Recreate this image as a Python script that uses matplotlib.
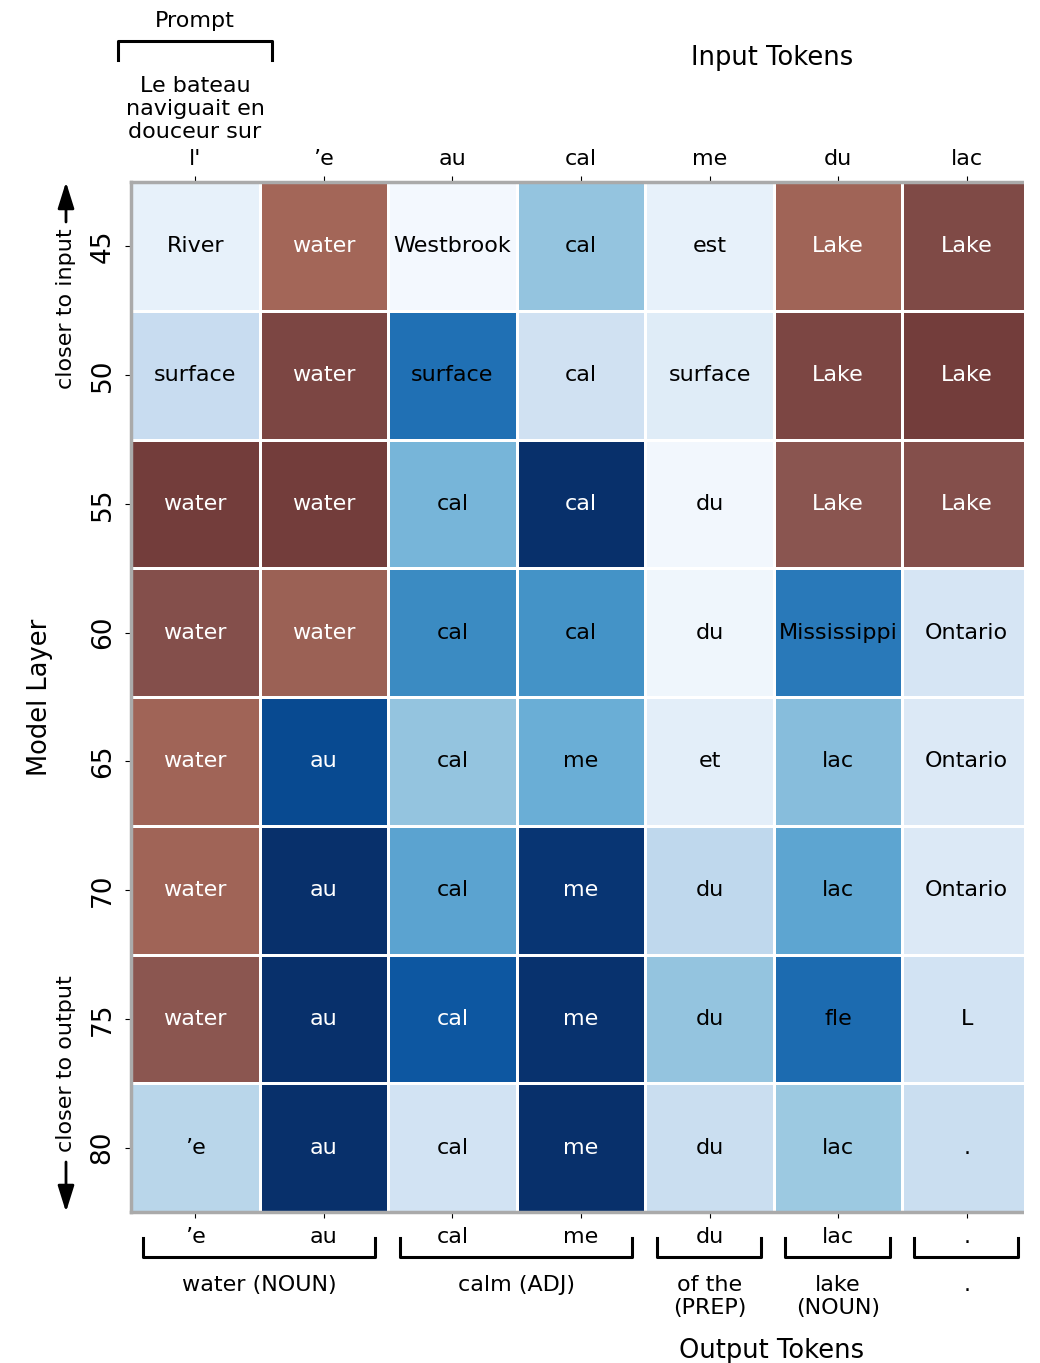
import matplotlib
matplotlib.use("Agg")
import matplotlib.pyplot as plt
import numpy as np
from matplotlib.colors import LinearSegmentedColormap
from matplotlib.lines import Line2D
from matplotlib.patches import Rectangle
from matplotlib.transforms import blended_transform_factory

layers = [45, 50, 55, 60, 65, 70, 75, 80]
input_tokens = ["l'", "\u2019e", "au", "cal", "me", "du", "lac"]
output_tokens = ["\u2019e", "au", "cal", "me", "du", "lac", "."]

words = [
    ["River", "water", "Westbrook", "cal", "est", "Lake", "Lake"],
    ["surface", "water", "surface", "cal", "surface", "Lake", "Lake"],
    ["water", "water", "cal", "cal", "du", "Lake", "Lake"],
    ["water", "water", "cal", "cal", "du", "Mississippi", "Ontario"],
    ["water", "au", "cal", "me", "et", "lac", "Ontario"],
    ["water", "au", "cal", "me", "du", "lac", "Ontario"],
    ["water", "au", "cal", "me", "du", "fle", "L"],
    ["\u2019e", "au", "cal", "me", "du", "lac", "."],
]

# 1 = decoded word is the English meaning (brown), 0 = anything else (blue)
english = [
    [0, 1, 0, 0, 0, 1, 1],
    [0, 1, 0, 0, 0, 1, 1],
    [1, 1, 0, 0, 0, 1, 1],
    [1, 1, 0, 0, 0, 0, 0],
    [1, 0, 0, 0, 0, 0, 0],
    [1, 0, 0, 0, 0, 0, 0],
    [1, 0, 0, 0, 0, 0, 0],
    [0, 0, 0, 0, 0, 0, 0],
]

scores = [
    [0.08, 0.02, 0.02, 0.40, 0.08, 0.08, 0.73],
    [0.24, 0.80, 0.75, 0.20, 0.12, 0.80, 0.97],
    [0.97, 0.97, 0.47, 1.00, 0.03, 0.50, 0.62],
    [0.62, 0.17, 0.65, 0.62, 0.04, 0.72, 0.17],
    [0.08, 0.90, 0.40, 0.50, 0.10, 0.43, 0.14],
    [0.08, 1.00, 0.55, 0.98, 0.27, 0.54, 0.14],
    [0.48, 1.00, 0.85, 0.99, 0.40, 0.77, 0.19],
    [0.29, 1.00, 0.19, 1.00, 0.23, 0.38, 0.23],
]

groups = [(0, 1, "water (NOUN)"), (2, 3, "calm (ADJ)"), (4, 4, "of the\n(PREP)"),
          (5, 5, "lake\n(NOUN)"), (6, 6, ".")]

W, H = 1040, 1363


def fx(x):
    return x / W


def fy(y):
    return 1 - y / H


browns = LinearSegmentedColormap.from_list("browns", ["#a46758", "#8a5550", "#723c3a"])

sc = np.array(scores)
en = np.array(english, dtype=bool)

fig = plt.figure(figsize=(W / 100, H / 100), dpi=100)
left, right = 131, 1031
ax = fig.add_axes([fx(left), fy(1212), fx(right) - fx(left), fy(182) - fy(1212)])

ax.pcolormesh(np.ma.masked_where(en, sc), cmap="Blues", vmin=0, vmax=1,
              edgecolors="white", linewidth=1.0)
ax.pcolormesh(np.ma.masked_where(~en, sc), cmap=browns, vmin=0, vmax=1,
              edgecolors="white", linewidth=1.0)
ax.set_xlim(0, 7)
ax.set_ylim(8, 0)

for i in range(8):
    for j in range(7):
        color = "white" if (en[i, j] or sc[i, j] > 0.8) else "black"
        ax.text(j + 0.5, i + 0.5, words[i][j], ha="center", va="center",
                fontsize=16, color=color)

for s in ax.spines.values():
    s.set_color("#aaaaaa")
    s.set_linewidth(2.5)
ax.spines["right"].set_visible(False)

ax.set_xticks(np.arange(7) + 0.5, output_tokens, fontsize=16)
ax.set_yticks(np.arange(8) + 0.5, layers, fontsize=19, rotation=90, va="center")
ax.tick_params(axis="x", length=4, pad=7)
ax.tick_params(axis="y", length=4, pad=7)

top = ax.secondary_xaxis("top")
top.set_xticks(np.arange(7) + 0.5, input_tokens, fontsize=16)
top.tick_params(length=4, pad=5)
top.spines["top"].set_visible(False)

# output word groups under the bottom axis
tr = blended_transform_factory(ax.transData, fig.transFigure)
for a, b, label in groups:
    x0, x1 = a + 0.09, b + 0.9
    fig.add_artist(Line2D([x0, x0, x1, x1], [fy(1238), fy(1257), fy(1257), fy(1238)],
                          transform=tr, color="black", lw=2.2, clip_on=False))
    xc = fx(left) + (a + b + 1) / 2 * (fx(right) - fx(left)) / 7
    fig.text(xc, fy(1275), label, ha="center", va="top", fontsize=16, linespacing=1.2)

# prompt bracket over the first column
fig.add_artist(Line2D([fx(118), fx(118), fx(272), fx(272)], [fy(60), fy(41), fy(41), fy(60)],
                      transform=fig.transFigure, color="black", lw=2.2))
fig.text(fx(195), fy(21), "Prompt", ha="center", va="center", fontsize=16)
fig.text(fx(195), fy(109), "Le bateau\nnaviguait en\ndouceur sur", ha="center",
         va="center", fontsize=16, linespacing=1.2)

fig.text(fx(772), fy(58), "Input Tokens", ha="center", va="center", fontsize=18.5)
fig.text(fx(772), fy(1351), "Output Tokens", ha="center", va="center", fontsize=18.5)
fig.text(fx(40), fy(697), "Model Layer", ha="center", va="center", fontsize=18.5, rotation=90)

arrow = dict(arrowstyle="-|>,head_length=0.8,head_width=0.25", color="black", lw=2,
             mutation_scale=20, shrinkA=0, shrinkB=0)
fig.text(fx(66), fy(309), "closer to input", ha="center", va="center", fontsize=16, rotation=90)
ax.annotate("", xy=(fx(66), fy(182)), xytext=(fx(66), fy(222)),
            xycoords="figure fraction", arrowprops=arrow)
fig.text(fx(66), fy(1064), "closer to output", ha="center", va="center", fontsize=16, rotation=90)
ax.annotate("", xy=(fx(66), fy(1212)), xytext=(fx(66), fy(1162)),
            xycoords="figure fraction", arrowprops=arrow)

# the saved area stops at x=1024, the strip beyond stays blank
fig.add_artist(Rectangle((fx(1024), 0), 1 - fx(1024), 1, transform=fig.transFigure,
                         facecolor="white", edgecolor="none", zorder=10))

fig.savefig("out.png", dpi=100)
